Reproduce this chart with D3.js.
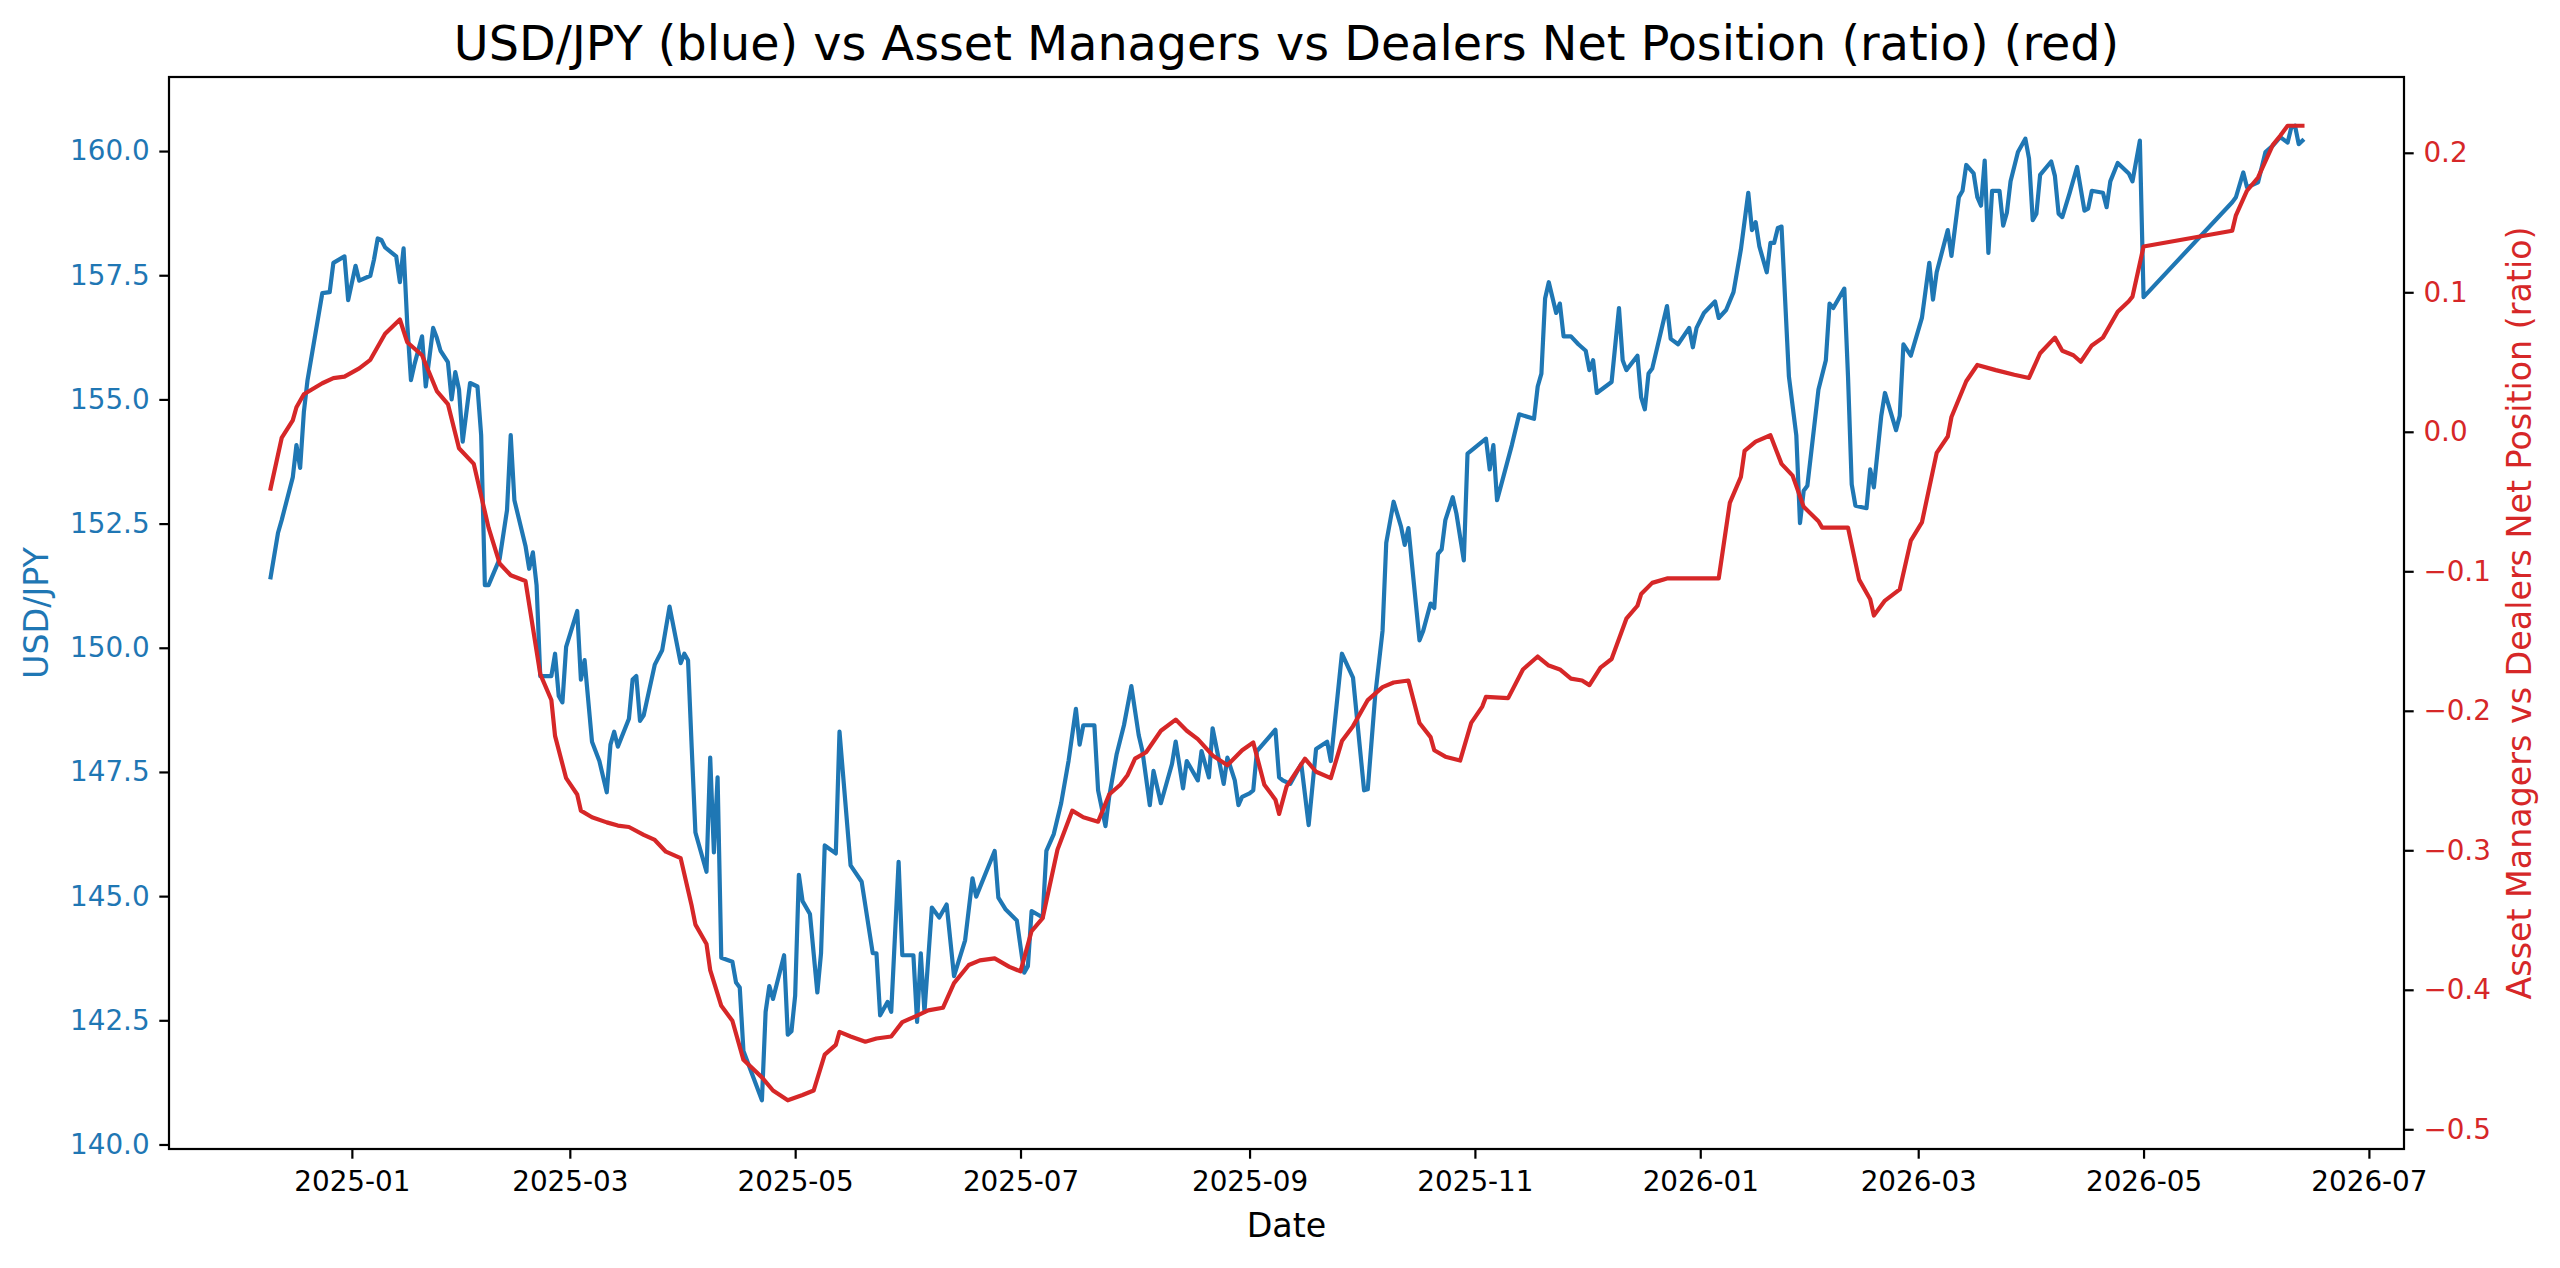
<!DOCTYPE html>
<html><head><meta charset="utf-8">
<script src="https://cdn.jsdelivr.net/npm/d3@7"></script>
<style>
body{margin:0;background:#fff}
svg{display:block}
text{font-family:"DejaVu Sans",sans-serif}
</style>
</head><body>
<svg id="chart" width="2560" height="1268"></svg>
<script>
// ---------- data ----------
const chartTitle = "USD/JPY (blue) vs Asset Managers vs Dealers Net Position (ratio) (red)";
const xLabel = "Date";
const yLeftLabel = "USD/JPY";
const yRightLabel = "Asset Managers vs Dealers Net Position (ratio)";

const usdjpyDates = [
"2024-12-10","2024-12-12","2024-12-13","2024-12-16","2024-12-17","2024-12-18","2024-12-19","2024-12-20","2024-12-24","2024-12-26",
"2024-12-27","2024-12-30","2024-12-31","2025-01-02","2025-01-03","2025-01-06","2025-01-07","2025-01-08","2025-01-09","2025-01-10",
"2025-01-13","2025-01-14","2025-01-15","2025-01-16","2025-01-17","2025-01-18","2025-01-20","2025-01-21","2025-01-23","2025-01-24",
"2025-01-25","2025-01-27","2025-01-28","2025-01-29","2025-01-30","2025-01-31","2025-02-02","2025-02-04","2025-02-05","2025-02-06",
"2025-02-07","2025-02-10","2025-02-12","2025-02-13","2025-02-14","2025-02-17","2025-02-18","2025-02-19","2025-02-20","2025-02-21",
"2025-02-24","2025-02-25","2025-02-26","2025-02-27","2025-02-28","2025-03-03","2025-03-04","2025-03-05","2025-03-07","2025-03-09",
"2025-03-11","2025-03-12","2025-03-13","2025-03-14","2025-03-17","2025-03-18","2025-03-19","2025-03-20","2025-03-21","2025-03-24",
"2025-03-26","2025-03-28","2025-03-31","2025-04-01","2025-04-02","2025-04-03","2025-04-04","2025-04-07","2025-04-08","2025-04-09",
"2025-04-10","2025-04-11","2025-04-14","2025-04-15","2025-04-16","2025-04-17","2025-04-22","2025-04-23","2025-04-24","2025-04-25",
"2025-04-28","2025-04-29","2025-04-30","2025-05-01","2025-05-02","2025-05-03","2025-05-05","2025-05-07","2025-05-08","2025-05-09",
"2025-05-12","2025-05-13","2025-05-16","2025-05-19","2025-05-22","2025-05-23","2025-05-24","2025-05-26","2025-05-27","2025-05-29",
"2025-05-30","2025-06-02","2025-06-03","2025-06-04","2025-06-05","2025-06-07","2025-06-09","2025-06-11","2025-06-13","2025-06-16",
"2025-06-18","2025-06-19","2025-06-24","2025-06-25","2025-06-27","2025-06-30","2025-07-02","2025-07-03","2025-07-04","2025-07-07",
"2025-07-08","2025-07-10","2025-07-12","2025-07-14","2025-07-16","2025-07-17","2025-07-18","2025-07-21","2025-07-22","2025-07-24",
"2025-07-25","2025-07-27","2025-07-29","2025-07-31","2025-08-02","2025-08-03","2025-08-05","2025-08-06","2025-08-08","2025-08-11",
"2025-08-12","2025-08-14","2025-08-15","2025-08-18","2025-08-19","2025-08-21","2025-08-22","2025-08-25","2025-08-26","2025-08-28",
"2025-08-29","2025-08-30","2025-09-01","2025-09-02","2025-09-03","2025-09-08","2025-09-09","2025-09-10","2025-09-12","2025-09-15",
"2025-09-17","2025-09-19","2025-09-22","2025-09-23","2025-09-26","2025-09-29","2025-10-02","2025-10-03","2025-10-05","2025-10-07",
"2025-10-08","2025-10-10","2025-10-12","2025-10-13","2025-10-14","2025-10-17","2025-10-18","2025-10-20","2025-10-21","2025-10-22",
"2025-10-23","2025-10-24","2025-10-26","2025-10-27","2025-10-29","2025-10-30","2025-11-04","2025-11-05","2025-11-06","2025-11-07",
"2025-11-11","2025-11-13","2025-11-17","2025-11-18","2025-11-19","2025-11-20","2025-11-21","2025-11-23","2025-11-24","2025-11-25",
"2025-11-27","2025-11-29","2025-12-01","2025-12-02","2025-12-03","2025-12-04","2025-12-08","2025-12-10","2025-12-11","2025-12-12",
"2025-12-15","2025-12-16","2025-12-17","2025-12-18","2025-12-19","2025-12-23","2025-12-24","2025-12-26","2025-12-29","2025-12-30",
"2025-12-31","2026-01-02","2026-01-05","2026-01-06","2026-01-08","2026-01-10","2026-01-12","2026-01-14","2026-01-15","2026-01-16",
"2026-01-17","2026-01-19","2026-01-20","2026-01-21","2026-01-22","2026-01-23","2026-01-25","2026-01-27","2026-01-28","2026-01-29",
"2026-01-30","2026-02-02","2026-02-04","2026-02-05","2026-02-06","2026-02-09","2026-02-10","2026-02-11","2026-02-12","2026-02-15",
"2026-02-16","2026-02-17","2026-02-19","2026-02-20","2026-02-23","2026-02-24","2026-02-25","2026-02-27","2026-03-02","2026-03-04",
"2026-03-05","2026-03-06","2026-03-09","2026-03-10","2026-03-11","2026-03-12","2026-03-13","2026-03-14","2026-03-16","2026-03-17",
"2026-03-18","2026-03-19","2026-03-20","2026-03-21","2026-03-23","2026-03-24","2026-03-25","2026-03-26","2026-03-28","2026-03-30",
"2026-03-31","2026-04-01","2026-04-02","2026-04-03","2026-04-06","2026-04-07","2026-04-08","2026-04-09","2026-04-11","2026-04-13",
"2026-04-15","2026-04-16","2026-04-17","2026-04-20","2026-04-21","2026-04-22","2026-04-24","2026-04-27","2026-04-28","2026-04-30",
"2026-05-01","2026-05-25","2026-05-26","2026-05-28","2026-05-29","2026-06-01","2026-06-03","2026-06-05","2026-06-07","2026-06-09",
"2026-06-10","2026-06-11","2026-06-12","2026-06-13"
];
const usdjpyValues = [
151.42,152.31,152.57,153.43,154.08,153.62,154.74,155.39,157.14,157.16,
157.75,157.88,157.00,157.69,157.39,157.49,157.82,158.24,158.21,158.06,
157.88,157.36,158.04,156.51,155.39,155.72,156.27,155.26,156.44,156.24,
155.98,155.75,155.00,155.55,155.20,154.15,155.33,155.26,154.28,151.26,
151.26,151.79,152.77,154.28,152.97,152.05,151.59,151.92,151.26,149.43,
149.43,149.88,149.03,148.90,150.02,150.74,149.36,149.75,148.11,147.72,
147.09,148.05,148.31,148.01,148.57,149.36,149.43,148.53,148.64,149.66,
149.95,150.83,149.69,149.88,149.75,147.98,146.28,145.49,147.79,145.88,
147.39,143.76,143.68,143.26,143.16,141.88,140.89,142.67,143.19,142.93,
143.81,142.21,142.28,143.00,145.43,144.90,144.64,143.06,143.85,146.02,
145.86,148.31,145.62,145.29,143.85,143.85,142.60,142.87,142.67,145.69,
143.81,143.81,142.47,143.85,142.67,144.77,144.57,144.83,143.39,144.11,
145.36,144.99,145.91,144.97,144.73,144.51,143.46,143.59,144.70,144.57,
145.91,146.25,146.87,147.72,148.77,148.05,148.44,148.44,147.13,146.41,
147.00,147.85,148.44,149.23,148.24,147.92,146.83,147.52,146.87,147.66,
148.11,147.17,147.72,147.33,147.92,147.39,148.38,147.26,147.79,147.33,
146.83,147.00,147.07,147.13,147.92,148.35,147.39,147.33,147.26,147.66,
146.43,147.96,148.11,147.72,149.88,149.40,147.13,147.15,149.03,150.34,
152.11,152.94,152.44,152.07,152.41,150.15,150.34,150.89,150.80,151.89,
151.98,152.57,153.03,152.70,151.76,153.91,154.21,153.59,154.08,152.97,
154.08,154.70,154.61,155.26,155.52,157.03,157.36,156.74,156.93,156.27,
156.27,156.11,155.98,155.59,155.79,155.13,155.35,156.84,155.79,155.59,
155.88,155.04,154.80,155.52,155.62,156.88,156.22,156.11,156.44,156.05,
156.44,156.74,156.97,156.64,156.80,157.16,158.02,159.16,158.41,158.57,
158.08,157.56,158.15,158.15,158.45,158.48,155.46,154.28,152.51,153.16,
153.26,155.20,155.79,156.93,156.84,157.23,155.46,153.29,152.86,152.81,
153.59,153.23,154.67,155.13,154.38,154.67,156.11,155.88,156.64,157.75,
157.01,157.56,158.41,157.89,158.48,159.07,159.20,159.72,159.55,159.07,
158.90,159.81,157.95,159.20,159.20,158.50,158.76,159.39,159.98,160.25,
159.85,158.61,158.74,159.52,159.79,159.50,158.74,158.67,159.16,159.68,
158.80,158.84,159.20,159.16,158.87,159.39,159.76,159.55,159.39,160.21,
157.06,158.97,159.07,159.57,159.27,159.37,159.98,160.11,160.28,160.17,
160.48,160.51,160.14,160.21
];

const ratioDates = [
"2024-12-10","2024-12-13","2024-12-16","2024-12-17","2024-12-19","2024-12-24","2024-12-27","2024-12-30","2025-01-03","2025-01-06",
"2025-01-10","2025-01-14","2025-01-16","2025-01-20","2025-01-24","2025-01-27","2025-01-30","2025-02-03","2025-02-07","2025-02-10",
"2025-02-13","2025-02-17","2025-02-21","2025-02-24","2025-02-25","2025-02-28","2025-03-03","2025-03-04","2025-03-07","2025-03-11",
"2025-03-14","2025-03-17","2025-03-21","2025-03-24","2025-03-27","2025-03-31","2025-04-03","2025-04-04","2025-04-07","2025-04-08",
"2025-04-11","2025-04-14","2025-04-17","2025-04-22","2025-04-25","2025-04-29","2025-05-03","2025-05-06","2025-05-09","2025-05-12",
"2025-05-13","2025-05-16","2025-05-20","2025-05-23","2025-05-27","2025-05-30","2025-06-03","2025-06-06","2025-06-10","2025-06-13",
"2025-06-17","2025-06-20","2025-06-24","2025-06-28","2025-07-01","2025-07-04","2025-07-07","2025-07-11","2025-07-15","2025-07-18",
"2025-07-22","2025-07-25","2025-07-28","2025-07-30","2025-08-01","2025-08-04","2025-08-08","2025-08-12","2025-08-15","2025-08-18",
"2025-08-22","2025-08-26","2025-08-30","2025-09-02","2025-09-05","2025-09-08","2025-09-09","2025-09-11","2025-09-16","2025-09-19",
"2025-09-23","2025-09-26","2025-09-29","2025-10-03","2025-10-07","2025-10-10","2025-10-14","2025-10-17","2025-10-20","2025-10-21",
"2025-10-24","2025-10-28","2025-10-31","2025-11-03","2025-11-04","2025-11-10","2025-11-14","2025-11-18","2025-11-21","2025-11-24",
"2025-11-27","2025-11-30","2025-12-02","2025-12-05","2025-12-08","2025-12-12","2025-12-15","2025-12-16","2025-12-19","2025-12-23",
"2026-01-06","2026-01-09","2026-01-12","2026-01-13","2026-01-16","2026-01-20","2026-01-23","2026-01-26","2026-01-29","2026-02-02",
"2026-02-03","2026-02-10","2026-02-13","2026-02-16","2026-02-17","2026-02-20","2026-02-24","2026-02-27","2026-03-02","2026-03-06",
"2026-03-09","2026-03-10","2026-03-14","2026-03-17","2026-03-22","2026-03-27","2026-03-31","2026-04-03","2026-04-07","2026-04-09",
"2026-04-12","2026-04-14","2026-04-17","2026-04-20","2026-04-24","2026-04-27","2026-04-28","2026-05-01","2026-05-25","2026-05-26",
"2026-05-29","2026-06-01","2026-06-05","2026-06-07","2026-06-09","2026-06-13"
];
const ratioValues = [
-0.0407,-0.0044,0.0082,0.0176,0.0269,0.0348,0.0385,0.0395,0.0455,0.0516,
0.0703,0.0805,0.0642,0.0549,0.0292,0.0199,-0.0118,-0.0230,-0.0687,-0.0944,
-0.1028,-0.1070,-0.1737,-0.1923,-0.2180,-0.2483,-0.2600,-0.2716,-0.2763,-0.2800,
-0.2823,-0.2833,-0.2889,-0.2926,-0.3010,-0.3056,-0.3400,-0.3533,-0.3672,-0.3859,
-0.4115,-0.4222,-0.4502,-0.4628,-0.4722,-0.4792,-0.4754,-0.4722,-0.4465,-0.4395,
-0.4302,-0.4335,-0.4372,-0.4349,-0.4335,-0.4232,-0.4185,-0.4148,-0.4129,-0.3952,
-0.3822,-0.3789,-0.3775,-0.3836,-0.3868,-0.3579,-0.3486,-0.2996,-0.2716,-0.2763,
-0.2795,-0.2600,-0.2530,-0.2460,-0.2343,-0.2297,-0.2143,-0.2063,-0.2143,-0.2203,
-0.2320,-0.2390,-0.2283,-0.2227,-0.2530,-0.2637,-0.2739,-0.2544,-0.2343,-0.2437,
-0.2483,-0.2217,-0.2110,-0.1923,-0.1830,-0.1797,-0.1783,-0.2087,-0.2189,-0.2283,
-0.2329,-0.2357,-0.2087,-0.1970,-0.1900,-0.1909,-0.1704,-0.1611,-0.1676,-0.1704,
-0.1769,-0.1783,-0.1816,-0.1690,-0.1629,-0.1340,-0.1247,-0.1163,-0.1083,-0.1051,
-0.1051,-0.0510,-0.0323,-0.0137,-0.0071,-0.0025,-0.0230,-0.0314,-0.0538,-0.0641,
-0.0687,-0.0687,-0.1060,-0.1200,-0.1317,-0.1210,-0.1130,-0.0780,-0.0650,-0.0151,
-0.0034,0.0106,0.0362,0.0479,0.0442,0.0409,0.0386,0.0563,0.0675,0.0581,
0.0549,0.0502,0.0619,0.0675,0.0861,0.0936,0.0969,0.1328,0.1441,0.1552,
0.1728,0.1823,0.2057,0.2122,0.2194,0.2194
];

const leftTickValues = [140.0, 142.5, 145.0, 147.5, 150.0, 152.5, 155.0, 157.5, 160.0];
const rightTickValues = [-0.5, -0.4, -0.3, -0.2, -0.1, 0.0, 0.1, 0.2];

// ---------- layout ----------
const W = 2560, H = 1268;
const M = {left: 169, right: 156, top: 77, bottom: 119};
const pw = W - M.left - M.right, ph = H - M.top - M.bottom;
const BLUE = "#1f77b4", RED = "#d62728";
const TICK_FONT = 27.8, LABEL_FONT = 33.3, TITLE_FONT = 47.7;
const TICK_LEN = 9.7, TICK_PAD = 9.7, SPINE_W = 2.2, LINE_W = 4.2;

const parse = d3.utcParse("%Y-%m-%d");
const blue = usdjpyDates.map((d, i) => ({date: parse(d), value: usdjpyValues[i]}));
const red = ratioDates.map((d, i) => ({date: parse(d), value: ratioValues[i]}));

function padded(lo, hi) { const r = hi - lo; return [lo - 0.05 * r, hi + 0.05 * r]; }

const xExt = d3.extent(blue.concat(red), d => +d.date);
const xDom = padded(xExt[0], xExt[1]);
const x = d3.scaleUtc().domain([new Date(xDom[0]), new Date(xDom[1])]).range([M.left, M.left + pw]);
const yL = d3.scaleLinear().domain(padded(...d3.extent(usdjpyValues))).range([M.top + ph, M.top]);
const yR = d3.scaleLinear().domain(padded(...d3.extent(ratioValues))).range([M.top + ph, M.top]);

const svg = d3.select("#chart");
svg.append("rect").attr("width", W).attr("height", H).attr("fill", "#fff");

// clip
svg.append("clipPath").attr("id", "clip").append("rect")
  .attr("x", M.left).attr("y", M.top).attr("width", pw).attr("height", ph);

// lines
const lineL = d3.line().x(d => x(d.date)).y(d => yL(d.value));
const lineR = d3.line().x(d => x(d.date)).y(d => yR(d.value));
const g = svg.append("g").attr("clip-path", "url(#clip)");
g.append("path").datum(blue).attr("d", lineL).attr("fill", "none")
  .attr("stroke", BLUE).attr("stroke-width", LINE_W).attr("stroke-linejoin", "round").attr("stroke-linecap", "square");
g.append("path").datum(red).attr("d", lineR).attr("fill", "none")
  .attr("stroke", RED).attr("stroke-width", LINE_W).attr("stroke-linejoin", "round").attr("stroke-linecap", "square");

// axes
function styleAxis(sel, color) {
  sel.select(".domain").remove();
  sel.selectAll(".tick line").attr("stroke", "#000").attr("stroke-width", SPINE_W);
  sel.selectAll(".tick text").attr("fill", color).attr("font-size", TICK_FONT)
    .attr("font-family", "DejaVu Sans, sans-serif");
}
const xAxis = d3.axisBottom(x).ticks(d3.utcMonth.every(2)).tickFormat(d3.utcFormat("%Y-%m"))
  .tickSizeInner(TICK_LEN).tickSizeOuter(0).tickPadding(TICK_PAD);
const gx = svg.append("g").attr("transform", `translate(0,${M.top + ph})`).call(xAxis);
styleAxis(gx, "#000");
gx.selectAll(".tick text").attr("dy", "0.80em");

const lAxis = d3.axisLeft(yL).tickValues(leftTickValues).tickFormat(d3.format(".1f"))
  .tickSizeInner(TICK_LEN).tickSizeOuter(0).tickPadding(TICK_PAD);
const gl = svg.append("g").attr("transform", `translate(${M.left},0)`).call(lAxis);
styleAxis(gl, BLUE);

const rAxis = d3.axisRight(yR).tickValues(rightTickValues).tickFormat(d3.format(".1f"))
  .tickSizeInner(TICK_LEN).tickSizeOuter(0).tickPadding(TICK_PAD);
const gr = svg.append("g").attr("transform", `translate(${M.left + pw},0)`).call(rAxis);
styleAxis(gr, RED);

// frame (spines)
svg.append("rect").attr("x", M.left).attr("y", M.top).attr("width", pw).attr("height", ph)
  .attr("fill", "none").attr("stroke", "#000").attr("stroke-width", SPINE_W);

// labels
svg.append("text").attr("x", M.left + pw / 2).attr("y", 60).attr("text-anchor", "middle")
  .attr("font-size", TITLE_FONT).attr("fill", "#000").text(chartTitle);
svg.append("text").attr("x", M.left + pw / 2).attr("y", 1237).attr("text-anchor", "middle")
  .attr("font-size", LABEL_FONT).attr("fill", "#000").text(xLabel);
svg.append("text").attr("transform", `translate(48,${M.top + ph / 2}) rotate(-90)`).attr("text-anchor", "middle")
  .attr("font-size", LABEL_FONT).attr("fill", BLUE).text(yLeftLabel);
svg.append("text").attr("transform", `translate(2531,${M.top + ph / 2}) rotate(-90)`).attr("text-anchor", "middle")
  .attr("font-size", LABEL_FONT).attr("fill", RED).text(yRightLabel);
</script>
</body></html>
